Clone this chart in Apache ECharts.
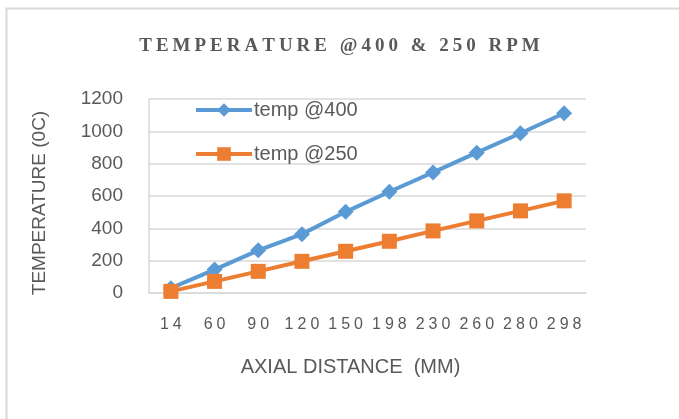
<!DOCTYPE html>
<html>
<head>
<meta charset="utf-8">
<script src="https://cdn.jsdelivr.net/npm/echarts@6/dist/echarts.min.js"></script>
<style>
  html, body { margin: 0; padding: 0; background: #fff; }
  #main { width: 679px; height: 419px; }
</style>
</head>
<body>
<div id="main"></div>
<script>
// axial distance (mm)
const distances = ['14', '60', '90', '120', '150', '198', '230', '260', '280', '298']
// temperature readings
const temp400 = [30, 145, 264, 364, 502, 626, 746, 868, 988, 1112]
const temp250 = [10, 72, 134, 196, 258, 320, 384, 446, 508, 570]
const yTicks = [0, 200, 400, 600, 800, 1000, 1200]

const titleText = 'TEMPERATURE @400 & 250 RPM'
const grey = '#595959'

// spaced letters, like the office chart title
const spaced = (str, key) => str.split('').map(c => '{' + key + '|' + c + '}').join('')

const myChart = echarts.init(document.getElementById('main'))

let option = {
  animation: false,
  color: ['#5b9bd5', '#ed7d31'],
  graphic: [
    {
      type: 'rect',
      shape: { x: 6.5, y: 8.5, width: 700, height: 430 },
      style: { fill: 'none', stroke: '#d9d9d9', lineWidth: 2 },
      silent: true
    }
  ],
  title: {
    text: spaced(titleText, 't'),
    left: 'center',
    top: 32,
    textStyle: {
      fontFamily: 'Liberation Serif',
      fontSize: 19,
      fontWeight: 'bold',
      color: grey,
      rich: {
        t: {
          fontFamily: 'Liberation Serif',
          fontSize: 19,
          fontWeight: 'bold',
          color: grey,
          padding: [0, 2, 0, 2]
        }
      }
    }
  },
  legend: {
    orient: 'vertical',
    left: 189,
    top: 95,
    itemWidth: 56,
    itemHeight: 17,
    itemGap: 24,
    lineStyle: { width: 4 },
    textStyle: {
      fontFamily: 'Liberation Sans',
      fontSize: 20,
      color: grey,
      padding: [0, 0, 0, -3]
    },
    data: ['temp @400', 'temp @250']
  },
  grid: {
    left: 149,
    right: 93,
    top: 99,
    bottom: 126
  },
  xAxis: {
    type: 'category',
    data: distances,
    name: 'AXIAL DISTANCE  (MM)',
    nameLocation: 'middle',
    nameGap: 64,
    nameTextStyle: {
      fontFamily: 'Liberation Sans',
      fontSize: 20,
      color: grey,
      padding: [0, 34, 0, 0]
    },
    axisLine: { lineStyle: { color: '#d9d9d9', width: 1.5 } },
    axisTick: { show: false },
    axisLabel: {
      interval: 0,
      margin: 24,
      formatter: (val) => spaced(val, 'd'),
      rich: {
        d: {
          fontFamily: 'Liberation Sans',
          fontSize: 16,
          color: grey,
          padding: [0, 2, 0, 2]
        }
      }
    }
  },
  yAxis: {
    type: 'value',
    min: yTicks[0],
    max: yTicks[yTicks.length - 1],
    interval: 200,
    name: 'TEMPERATURE (0C)',
    nameLocation: 'middle',
    nameGap: 100,
    nameTextStyle: {
      fontFamily: 'Liberation Sans',
      fontSize: 19,
      color: grey,
      padding: [0, 14, 0, 0]
    },
    axisLine: { show: true, lineStyle: { color: '#d9d9d9', width: 1.5 } },
    axisTick: { show: false },
    axisLabel: {
      fontFamily: 'Liberation Sans',
      fontSize: 19,
      color: grey,
      margin: 26,
      formatter: (v) => String(v)
    },
    splitLine: { lineStyle: { color: '#d9d9d9', width: 1.5 } }
  },
  series: [
    {
      name: 'temp @400',
      type: 'line',
      data: temp400,
      symbol: 'diamond',
      symbolSize: 16,
      lineStyle: { width: 4 },
      itemStyle: { color: '#5b9bd5' }
    },
    {
      name: 'temp @250',
      type: 'line',
      data: temp250,
      symbol: 'rect',
      symbolSize: 15,
      lineStyle: { width: 4 },
      itemStyle: { color: '#ed7d31' }
    }
  ]
}

myChart.setOption(option, true)
</script>
</body>
</html>
